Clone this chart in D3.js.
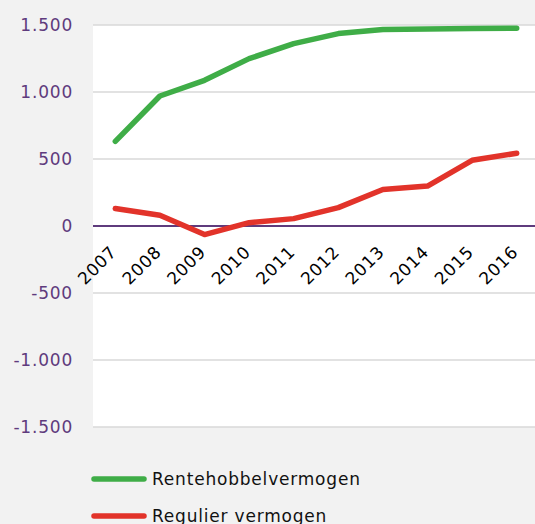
<!DOCTYPE html>
<html>
<head>
<meta charset="utf-8">
<script src="https://cdn.jsdelivr.net/npm/d3@7"></script>
<style>
  body { margin: 0; background: #f2f2f2; }
  text { font-family: "DejaVu Sans", Verdana, sans-serif; }
</style>
</head>
<body>
<div class="chart"></div>
<script>
const years = ["2007","2008","2009","2010","2011","2012","2013","2014","2015","2016"];
const rentehobbel = [632, 970, 1087, 1249, 1361, 1436, 1466, 1470, 1473, 1476];
const regulier = [130, 80, -64, 25, 55, 137, 272, 298, 490, 543];
const yTicks = [-1500, -1000, -500, 0, 500, 1000, 1500];
const seriesNames = ["Rentehobbelvermogen", "Regulier vermogen"];
const seriesColors = ["#3fad47", "#e2332a"];

const width = 535, height = 524;
const margin = ({top: 25, right: -4, bottom: 97, left: 93});

const svg = d3.select(".chart")
    .append("svg")
    .attr("width", width)
    .attr("height", height);

svg.append("rect")
    .attr("width", width)
    .attr("height", height)
    .attr("fill", "#f2f2f2");

const xScale = d3.scalePoint()
    .domain(years)
    .range([margin.left, width - margin.right])
    .padding(0.5);

const yScale = d3.scaleLinear()
    .domain([-1500, 1500])
    .range([height - margin.bottom, margin.top]);

// plot area
svg.append("rect")
    .attr("x", margin.left)
    .attr("y", yScale(1500))
    .attr("width", width - margin.left)
    .attr("height", yScale(-1500) - yScale(1500))
    .attr("fill", "#ffffff");

// gridlines
svg.append("g")
    .selectAll("line")
    .data(yTicks.filter(d => d !== 0))
    .enter()
    .append("line")
    .attr("x1", margin.left)
    .attr("x2", width)
    .attr("y1", d => yScale(d))
    .attr("y2", d => yScale(d))
    .attr("stroke", "#d9d9d9")
    .attr("stroke-width", 1.5);

// y axis labels
const yAxis = d3.axisLeft(yScale)
    .tickValues(yTicks)
    .tickSize(0)
    .tickPadding(20)
    .tickFormat(d => d3.format(",")(d).replace(/,/g, ".").replace("−", "-"));

svg.append("g")
    .attr("class", "axis y-axis")
    .attr("transform", `translate(${margin.left}, 0)`)
    .call(yAxis)
    .call(g => g.select(".domain").remove())
    .selectAll("text")
    .attr("fill", "#5f3b7d")
    .attr("font-size", 17)
    .attr("letter-spacing", 0.8);

// zero line
svg.append("line")
    .attr("x1", margin.left)
    .attr("x2", width)
    .attr("y1", yScale(0))
    .attr("y2", yScale(0))
    .attr("stroke", "#5f3b7d")
    .attr("stroke-width", 2);

// x axis labels
const xAxis = d3.axisBottom(xScale).tickSize(0).tickPadding(0);
svg.append("g")
    .attr("class", "axis x-axis")
    .attr("transform", `translate(0, ${yScale(0)})`)
    .call(xAxis)
    .call(g => g.select(".domain").remove())
    .selectAll("text")
    .attr("fill", "#000")
    .attr("font-size", 17)
    .attr("letter-spacing", 0.8)
    .attr("text-anchor", "end")
    .attr("dy", null)
    .attr("y", 0)
    .attr("transform", "translate(2, 27) rotate(-45)");

// lines
const line = d3.line()
    .x((d, i) => xScale(years[i]))
    .y(d => yScale(d));

[rentehobbel, regulier].forEach((values, k) => {
    svg.append("path")
        .datum(values)
        .attr("fill", "none")
        .attr("stroke", seriesColors[k])
        .attr("stroke-width", 5.5)
        .attr("stroke-linecap", "round")
        .attr("stroke-linejoin", "round")
        .attr("d", line);
});

// legend
const legend = svg.append("g");
legend.selectAll("line")
    .data(seriesNames)
    .enter()
    .append("line")
    .attr("x1", 94)
    .attr("x2", 144)
    .attr("y1", (d, i) => 479 + i * 37)
    .attr("y2", (d, i) => 479 + i * 37)
    .attr("stroke", (d, i) => seriesColors[i])
    .attr("stroke-width", 5.5)
    .attr("stroke-linecap", "round");

legend.selectAll("text")
    .data(seriesNames)
    .enter()
    .append("text")
    .attr("x", 152)
    .attr("y", (d, i) => 479 + i * 37)
    .attr("dy", "0.35em")
    .attr("font-size", 17)
    .attr("letter-spacing", 0.8)
    .attr("fill", "#111")
    .text(d => d);
</script>
</body>
</html>
